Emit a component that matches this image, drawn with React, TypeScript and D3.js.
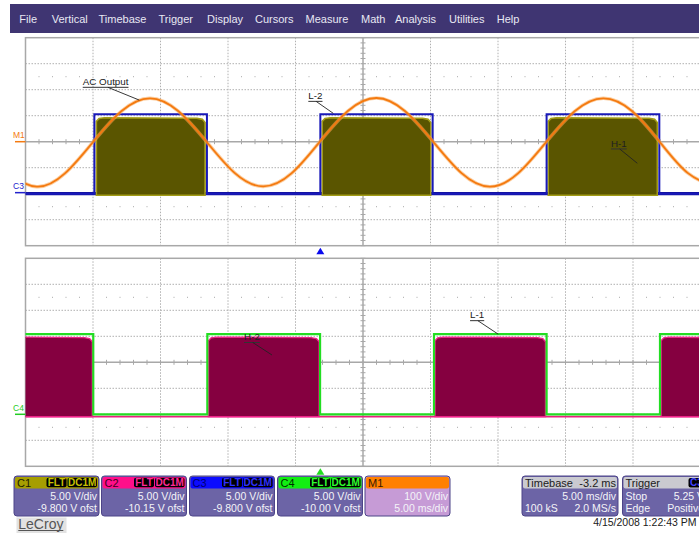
import React from 'react';
import * as d3 from 'd3';

const W = 699;
const H = 533;
const FONT = '"Liberation Sans", Arial, sans-serif';

// screen geometry
const GRID_LEFT = 25.5;
const DIV_W = 67.5;
const DIV_H = 26;
const TOP_Y = 37.7;
const BOT_Y = 258.3;

// menu bar
const menuItems = ['File', 'Vertical', 'Timebase', 'Trigger', 'Display', 'Cursors', 'Measure', 'Math', 'Analysis', 'Utilities', 'Help'];
const menuX = [19.3, 51.7, 98.5, 158.5, 207, 255, 305.5, 361, 395, 449, 496.7];

// channel setup
const channels = ['C1', 'C2', 'C3', 'C4', 'M1'];
const voltsPerDiv = [5, 5, 5, 5, 100];
const offsets = [-9.8, -10.15, -9.8, -10.0, 0];
const scaleText = ['5.00 V/div', '5.00 V/div', '5.00 V/div', '5.00 V/div', '100 V/div'];
const offsetText = ['-9.800 V ofst', '-10.15 V ofst', '-9.800 V ofst', '-10.00 V ofst', '5.00 ms/div'];

// C3 (gate drive, blue) high windows in ms, levels in V
const c3High = [[5.1, 13.44], [21.84, 30.16], [38.6, 46.95]];
const c3Levels = [-0.2, 15.1];
// C1 (olive burst)
const c1Bursts = [[5.25, 13.3], [21.98, 30.02], [38.72, 46.8]];
const c1Levels = [-0.5, 14.4];
// C4 (green) high windows
const c4High = [[-1, 5.02], [13.47, 21.82], [30.26, 38.6], [47.0, 51]];
const c4Levels = [0, 15.4];
// C2 (magenta burst)
const c2Bursts = [[-1, 4.95], [13.55, 21.75], [30.33, 38.52], [47.08, 51]];
const c2Levels = [-0.3, 15.0];

// M1 AC output, [ms, V]
const m1Points = [
  [-1.27, -122], [0.83, -173], [2.92, -122], [5.02, 0], [7.12, 118], [9.22, 167], [11.31, 118],
  [13.41, 0], [15.51, -121], [17.6, -172], [19.7, -122], [21.8, 0], [23.9, 119], [26.0, 168],
  [28.1, 118], [30.2, 0], [32.3, -121], [34.4, -173], [36.5, -121], [38.59, 0], [40.7, 118],
  [42.8, 167], [44.9, 119], [46.97, 0], [49.07, -121], [51.2, -172],
];

const triggerTime = 21.84;

// annotations: text anchor and leader target in (ms, div)
const calloutText = ['AC Output', 'L-2', 'H-1', 'H-2', 'L-1'];
const calloutPanel = [0, 0, 0, 1, 1];
const calloutAt = [[4.24, 2.18], [20.95, 1.64], [43.37, -0.19], [16.19, 0.85], [32.93, 1.69]];
const calloutTo = [[8.43, 1.6], [22.8, 1.09], [45.32, -0.83], [18.26, 0.28], [35.02, 1.08]];

// info panel colours
const headerColors = ['#a69e00', '#ff0f8a', '#0c0cff', '#12ee12', '#ff8000'];
const headerInk = ['#1c1c00', '#40001c', '#000070', '#003000', '#3a1800'];
const badgeInk = ['#c8c000', '#ff2a96', '#3030ff', '#30ff30'];

const measureCanvas = typeof document !== 'undefined' ? document.createElement('canvas').getContext('2d') : null;
function textWidth(s: string, size: number) {
  if (!measureCanvas) return s.length * size * 0.55;
  measureCanvas.font = `${size}px "Liberation Sans", Arial, sans-serif`;
  return measureCanvas.measureText(s).width;
}

const x = d3.scaleLinear().domain([0, 50]).range([GRID_LEFT, GRID_LEFT + 10 * DIV_W]);
const yTop = d3.scaleLinear().domain([-4, 4]).range([TOP_Y + 8 * DIV_H, TOP_Y]);
const yBot = d3.scaleLinear().domain([-4, 4]).range([BOT_Y + 8 * DIV_H, BOT_Y]);
const panelsY = [yTop, yBot];

const toDiv = (ch: number, v: number) => (v + offsets[ch]) / voltsPerDiv[ch];

function squarePoints(windows: number[][], lo: number, hi: number) {
  const pts: number[][] = [[-2, lo]];
  windows.forEach(([s, e]) => pts.push([s, lo], [s, hi], [e, hi], [e, lo]));
  pts.push([52, lo]);
  return pts;
}

function burstPoints(s: number, e: number, lo: number, hi: number) {
  return [[s, lo], [s, hi - 0.7], [s + 0.2, hi - 0.15], [s + 0.6, hi], [e - 0.6, hi - 0.1], [e - 0.2, hi - 0.3], [e, hi - 0.9], [e, lo]];
}

function Grid({ y, id }: { y: d3.ScaleLinear<number, number>; id: string }) {
  const x0 = x(0), x1 = x(50);
  const y0 = y(4), y1 = y(-4);
  const vMajors = d3.range(5, 50, 5);
  const hMajors = d3.range(-3, 4, 1);
  const minorT = d3.range(0, 50.01, 1);
  const minorD = d3.range(-4, 4.01, 0.2);
  const dotT = minorT.filter(t => t % 5 !== 0);
  return (
    <g id={id}>
      {vMajors.filter(t => t !== 25).map(t => (
        <line key={'v' + t} x1={x(t)} x2={x(t)} y1={y0} y2={y1} stroke="#b0b0b0" strokeDasharray="1.5,1.5" />
      ))}
      {hMajors.filter(d => d !== 0).map(d => (
        <line key={'h' + d} x1={x0} x2={x1} y1={y(d)} y2={y(d)} stroke="#b0b0b0" strokeDasharray="1.5,1.5" />
      ))}
      {[2.5, -2.5].map(d => dotT.map(t => (
        <rect key={'d' + d + t} x={x(t) - 0.5} y={y(d) - 0.5} width={1} height={1} fill="#a8a8a8" />
      )))}
      <line x1={x0} x2={x1} y1={y(0)} y2={y(0)} stroke="#a8a8a8" strokeWidth={1.5} />
      <line x1={x(25)} x2={x(25)} y1={y0} y2={y1} stroke="#a8a8a8" strokeWidth={1.5} />
      {minorT.map(t => (
        <line key={'tx' + t} x1={x(t)} x2={x(t)} y1={y(0) - 2.5} y2={y(0) + 2.5} stroke="#a8a8a8" />
      ))}
      {minorD.map(d => (
        <line key={'ty' + d} x1={x(25) - 2.5} x2={x(25) + 2.5} y1={y(d)} y2={y(d)} stroke="#a8a8a8" />
      ))}
      <rect x={x0} y={y0} width={x1 - x0} height={y1 - y0} fill="none" stroke="#a8a8a8" strokeWidth={1.5} />
    </g>
  );
}

function InfoBox({ bx, i }: { bx: number; i: number }) {
  const w = 85, top = 476, h = 40, hh = 12.5;
  const isMath = i === 4;
  return (
    <g fontFamily={FONT}>
      <rect x={bx} y={top} width={w} height={h} rx={3} fill={isMath ? '#c69bd6' : '#6c64a6'} stroke="#4d4488" />
      <rect x={bx + 1} y={top + 1} width={w - 2} height={hh - 1} rx={2} fill={headerColors[i]} />
      <text x={bx + 3} y={top + 10.5} fontSize={11} fill={headerInk[i]}>{channels[i]}</text>
      {!isMath && (
        <g fontSize={10} fontWeight="bold">
          <rect x={bx + 32.5} y={top + 1.8} width={20} height={9.5} rx={2} fill="#000" />
          <text x={bx + 42.5} y={top + 10} textAnchor="middle" fill={badgeInk[i]}>FLT</text>
          <rect x={bx + 53.5} y={top + 1.8} width={29.5} height={9.5} rx={2} fill="#000" />
          <text x={bx + 68.2} y={top + 10} textAnchor="middle" fill={badgeInk[i]}>DC1M</text>
        </g>
      )}
      <text x={bx + w - 2} y={top + 24} fontSize={10.5} fill="#f4f4f8" textAnchor="end">{scaleText[i]}</text>
      <text x={bx + w - 2} y={top + 36.3} fontSize={10.5} fill="#f4f4f8" textAnchor="end">{offsetText[i]}</text>
    </g>
  );
}

export default function App() {
  const line = d3.line<number[]>().x(d => x(d[0])).y(d => d[1]);
  const sq = (ch: number, y: d3.ScaleLinear<number, number>, pts: number[][]) =>
    line(pts.map(p => [p[0], y(toDiv(ch, p[1]))]));

  const m1Path = d3.line<number[]>().curve(d3.curveNatural)
    .x(d => x(d[0])).y(d => yTop(toDiv(4, d[1])))(m1Points);

  const boxX = [14, 101.5, 189.5, 277.5, 365];

  return (
    <div style={{ position: 'absolute', left: 0, top: 0 }}>
      <svg width={W} height={H} style={{ display: 'block', background: '#fff' }}>
        <defs>
          <clipPath id="clipTop"><rect x={x(0)} y={yTop(4)} width={x(50) - x(0)} height={yTop(-4) - yTop(4)} /></clipPath>
          <clipPath id="clipBot"><rect x={x(0)} y={yBot(4)} width={x(50) - x(0)} height={yBot(-4) - yBot(4)} /></clipPath>
        </defs>

        {/* menu */}
        <rect x={10} y={4} width={W - 10} height={29} fill="#3f3572" />
        {menuItems.map((m, i) => (
          <text key={m} x={menuX[i]} y={23} fontFamily={FONT} fontSize={11} fill="#e8e8f2">{m}</text>
        ))}

        <Grid y={yTop} id="gridTop" />
        <Grid y={yBot} id="gridBot" />

        {/* top panel traces */}
        <g clipPath="url(#clipTop)">
          <line x1={x(0)} x2={x(50)} y1={yTop(toDiv(2, c3Levels[0]))} y2={yTop(toDiv(2, c3Levels[0]))} stroke="#10109c" strokeWidth={3.2} />
          {c1Bursts.map(([s, e], i) => (
            <path key={i} d={sq(0, yTop, burstPoints(s, e, c1Levels[0], c1Levels[1])) + 'Z'} fill="#5a5500" stroke="#a29c16" strokeWidth={1.6} />
          ))}
          <path d={sq(2, yTop, squarePoints(c3High, c3Levels[0], c3Levels[1])) || ''} fill="none" stroke="#1818b8" strokeWidth={2} />
          <path d={m1Path || ''} fill="none" stroke="#f9a552" strokeWidth={3.6} strokeOpacity={0.55} />
          <path d={m1Path || ''} fill="none" stroke="#f47a10" strokeWidth={1.8} />
        </g>

        {/* bottom panel traces */}
        <g clipPath="url(#clipBot)">
          <line x1={x(0)} x2={x(50)} y1={yBot(toDiv(1, c2Levels[0]))} y2={yBot(toDiv(1, c2Levels[0]))} stroke="#e8207e" strokeWidth={1.8} />
          {c2Bursts.map(([s, e], i) => (
            <path key={i} d={sq(1, yBot, burstPoints(s, e, c2Levels[0], c2Levels[1])) + 'Z'} fill="#850040" stroke="#f0208a" strokeWidth={1.4} />
          ))}
          <path d={sq(3, yBot, squarePoints(c4High, c4Levels[0], c4Levels[1])) || ''} fill="none" stroke="#22dd22" strokeWidth={2.2} />
        </g>

        {/* ground markers */}
        <g fontFamily={FONT} fontSize={8.5}>
          <text x={13} y={yTop(0) - 4} fill="#f47a10">M1</text>
          <line x1={15} x2={x(0)} y1={yTop(0)} y2={yTop(0)} stroke="#f47a10" strokeWidth={1.5} />
          <text x={13} y={yTop(toDiv(2, 0)) - 3.5} fill="#2222cc">C3</text>
          <line x1={15} x2={x(0)} y1={yTop(toDiv(2, 0))} y2={yTop(toDiv(2, 0))} stroke="#2222cc" strokeWidth={1.5} />
          <text x={13} y={yBot(toDiv(3, 0)) - 3.5} fill="#22cc22">C4</text>
          <line x1={15} x2={x(0)} y1={yBot(toDiv(3, 0))} y2={yBot(toDiv(3, 0))} stroke="#22cc22" strokeWidth={1.5} />
        </g>

        {/* trigger markers */}
        <path d={`M${x(triggerTime)},${yTop(-4) + 2} l4,6.5 h-8 Z`} fill="#0a0aee" />
        <path d={`M${x(triggerTime)},${yBot(-4) + 2} l4,6.5 h-8 Z`} fill="#22dd22" />

        {/* callouts */}
        {calloutText.map((t, i) => {
          const y = panelsY[calloutPanel[i]];
          const tx = x(calloutAt[i][0]);
          const ty = y(calloutAt[i][1]);
          const w = textWidth(t, 9.8);
          const ux = tx + w * 0.55;
          return (
            <g key={t}>
              <text x={tx} y={ty} fontFamily={FONT} fontSize={9.8} fill="#202020">{t}</text>
              <line x1={tx} x2={tx + w} y1={ty + 2.3} y2={ty + 2.3} stroke="#333" strokeWidth={1} />
              <line x1={ux} y1={ty + 2.3} x2={x(calloutTo[i][0])} y2={y(calloutTo[i][1])} stroke="#222" strokeWidth={0.9} />
            </g>
          );
        })}

        {/* channel boxes */}
        {boxX.map((bx, i) => <InfoBox key={i} bx={bx} i={i} />)}

        {/* timebase */}
        <g fontFamily={FONT} fontSize={10.5}>
          <rect x={522} y={476} width={96} height={40} rx={3} fill="#6c64a6" stroke="#4d4488" />
          <rect x={523} y={477} width={94} height={11.5} rx={2} fill="#cacad0" />
          <text x={525} y={486.5} fill="#202020" fontSize={11}>Timebase</text>
          <text x={616} y={486.5} fill="#202020" fontSize={11} textAnchor="end">-3.2 ms</text>
          <text x={616} y={500} fill="#f4f4f8" textAnchor="end">5.00 ms/div</text>
          <text x={525} y={512.3} fill="#f4f4f8">100 kS</text>
          <text x={616} y={512.3} fill="#f4f4f8" textAnchor="end">2.0 MS/s</text>

          <rect x={622.5} y={476} width={96} height={40} rx={3} fill="#6c64a6" stroke="#4d4488" />
          <rect x={623.5} y={477} width={94} height={11.5} rx={2} fill="#cacad0" />
          <text x={625.5} y={486.5} fill="#202020" fontSize={11}>Trigger</text>
          <rect x={688.5} y={478} width={20} height={9.5} rx={2} fill="#000" />
          <text x={690} y={486.3} fill="#4040ff" fontSize={10} fontWeight="bold">C3</text>
          <text x={625.5} y={500} fill="#f4f4f8">Stop</text>
          <text x={704} y={500} fill="#f4f4f8" textAnchor="end">5.25 V</text>
          <text x={625.5} y={512.3} fill="#f4f4f8">Edge</text>
          <text x={704} y={512.3} fill="#f4f4f8" textAnchor="end">Positive</text>

          <text x={696.5} y={526} fill="#202020" textAnchor="end">4/15/2008 1:22:43 PM</text>
        </g>

        {/* logo */}
        <rect x={16.5} y={517.5} width={50} height={16} fill="#e2e2e2" />
        <text x={18.3} y={528.5} fontFamily={FONT} fontSize={14} fill="#555">LeCroy</text>
        <line x1={18.3} x2={63.3} y1={530.5} y2={530.5} stroke="#555" strokeWidth={1.2} />
      </svg>
    </div>
  );
}
